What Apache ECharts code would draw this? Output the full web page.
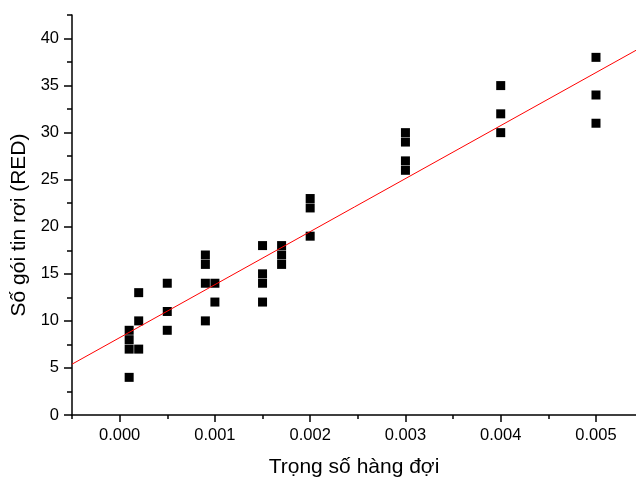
<!DOCTYPE html>
<html>
<head>
<meta charset="utf-8">
<script src="https://cdn.jsdelivr.net/npm/echarts@6/dist/echarts.min.js"></script>
<style>
    html, body { margin: 0; padding: 0; background: #fff; }
    #chart { width: 636px; height: 479px; }
</style>
</head>
<body>
<div id="chart"></div>
<script>
/* ===================== 数据 ===================== */
// 权重 (x) 与丢包数 (y)，按列读图
var weightX = [
    0.0001, 0.0001, 0.0001, 0.0001,
    0.0002, 0.0002, 0.0002,
    0.0005, 0.0005, 0.0005,
    0.0009, 0.0009, 0.0009, 0.0009,
    0.001, 0.001,
    0.0015, 0.0015, 0.0015, 0.0015,
    0.0017, 0.0017, 0.0017,
    0.002, 0.002, 0.002,
    0.003, 0.003, 0.003, 0.003,
    0.004, 0.004, 0.004,
    0.005, 0.005, 0.005
];
var droppedY = [
    4, 7, 8, 9,
    7, 10, 13,
    9, 11, 14,
    10, 14, 16, 17,
    12, 14,
    12, 14, 15, 18,
    16, 17, 18,
    19, 22, 23,
    26, 27, 29, 30,
    30, 32, 35,
    31, 34, 38
];

// 拟合直线两端
var fitX = [-0.0005, 0.0055];
var fitY = [5.4, 39.2];

// 刻度
var xMajorTicks = [0, 0.001, 0.002, 0.003, 0.004, 0.005];
var xMinorTicks = [-0.0005, 0.0005, 0.0015, 0.0025, 0.0035, 0.0045];
var yMajorTicks = [0, 5, 10, 15, 20, 25, 30, 35, 40];
var yMinorTicks = [2.5, 7.5, 12.5, 17.5, 22.5, 27.5, 32.5, 37.5, 42.5];
/* ===================== end ===================== */

var points = weightX.map(function (x, i) { return [x, droppedY[i]]; });
var fitLine = fitX.map(function (x, i) { return [x, fitY[i]]; });

var font = 'Liberation Sans, Arial, sans-serif';
var xRange = { min: -0.0005, max: 0.00542 };
var yRange = { min: 0, max: 42.5 };

var chart = echarts.init(document.getElementById('chart'));
chart.setOption({
    animation: false,
    grid: { left: 72, right: 0, top: 15, bottom: 64, outerBoundsMode: 'none' },
    xAxis: [{
        type: 'value',
        min: xRange.min,
        max: xRange.max,
        name: 'Trọng số hàng đợi',
        nameLocation: 'middle',
        nameGap: 42,
        nameTextStyle: { fontFamily: font, fontSize: 21, color: '#000' },
        splitLine: { show: false },
        axisLine: { onZero: false, lineStyle: { color: '#000', width: 1.5 } },
        axisTick: { customValues: xMajorTicks, length: 7, lineStyle: { color: '#000', width: 1.5 } },
        axisLabel: {
            customValues: xMajorTicks,
            margin: 12,
            fontFamily: font, fontSize: 16.5, color: '#000',
            formatter: function (v) { return v.toFixed(3); }
        }
    }, {
        // 次刻度
        type: 'value',
        min: xRange.min,
        max: xRange.max,
        position: 'bottom',
        splitLine: { show: false },
        axisLine: { show: false, onZero: false },
        axisLabel: { show: false },
        axisTick: { customValues: xMinorTicks, length: 4, lineStyle: { color: '#000', width: 1.5 } }
    }],
    yAxis: [{
        type: 'value',
        min: yRange.min,
        max: yRange.max,
        name: 'Số gói tin rơi (RED)',
        nameLocation: 'middle',
        nameGap: 40,
        nameTextStyle: { fontFamily: font, fontSize: 21, color: '#000', padding: [0, 20, 0, 0] },
        splitLine: { show: false },
        axisLine: { show: true, onZero: false, lineStyle: { color: '#000', width: 1.5 } },
        axisTick: { show: true, customValues: yMajorTicks, length: 8, lineStyle: { color: '#000', width: 1.5 } },
        axisLabel: { customValues: yMajorTicks, margin: 13, fontFamily: font, fontSize: 16.5, color: '#000' }
    }, {
        type: 'value',
        min: yRange.min,
        max: yRange.max,
        position: 'left',
        splitLine: { show: false },
        axisLine: { show: false, onZero: false },
        axisLabel: { show: false },
        axisTick: { show: true, customValues: yMinorTicks, length: 5, lineStyle: { color: '#000', width: 1.5 } }
    }],
    series: [{
        type: 'line',
        data: fitLine,
        symbol: 'none',
        lineStyle: { color: '#ff0000', width: 1 },
        z: 3
    }, {
        type: 'scatter',
        data: points,
        symbol: 'rect',
        symbolSize: 9,
        itemStyle: { color: '#000', opacity: 1 },
        z: 2
    }]
});
</script>
</body>
</html>
